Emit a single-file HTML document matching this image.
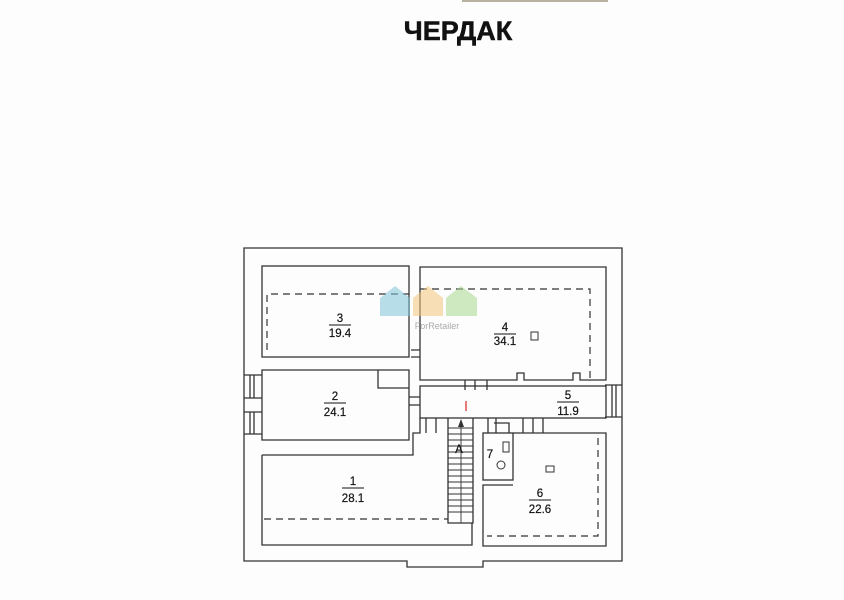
<!DOCTYPE html>
<html><head><meta charset="utf-8"><style>
html,body{margin:0;padding:0;background:#fff;}
svg{display:block;}
text{font-family:"Liberation Sans",sans-serif;}
</style></head><body>
<svg width="844" height="600" viewBox="0 0 844 600" xmlns="http://www.w3.org/2000/svg">
<rect width="844" height="600" fill="#fdfdfd"/>
<line x1="462" y1="1" x2="608" y2="1" stroke="#b8b0a0" stroke-width="2"/>
<text x="458" y="40" font-size="27" font-weight="bold" text-anchor="middle" fill="#111" stroke="#111" stroke-width="0.5">ЧЕРДАК</text>

<g fill="none" stroke="#333" stroke-width="1.3">
<path d="M244 248 H622 V561 H483 V567 H407 V561 H244 Z"/>
<rect x="262" y="266" width="147" height="91"/>
<path d="M420 267 H606 V380 H580 V373 H573 V380 H524 V373 H517 V380 H420 Z"/>
<path d="M262 370 H409 V440 H262 Z"/>
<path d="M378 370 V388 H409"/>
<rect x="420" y="386" width="186" height="32"/>
<path d="M262 455 H413 V433 H420 V418 M262 455 V545 H472 V523"/>
<path d="M448 418 V523 H473 V418"/>
<rect x="483" y="433" width="30" height="47"/>
<path d="M513 433 H606 V546 H483 V485 H513"/>
<path d="M605 385 H622 M605 417 H622 M612 385 V417 M616 385 V417"/>
<path d="M244 375 H262 M244 398 H262 M250 375 V398 M254 375 V398"/>
<path d="M244 412 H262 M244 434 H262 M250 412 V434 M254 412 V434"/>
<path d="M409 397 H420 M409 405 H420"/>
<path d="M411 350 H420 M411 357 H420"/>
<path d="M465 380 V390 M475 380 V390 M487 380 V390"/>
<path d="M426 418 V433 M436 418 V433 M488 418 V433 M496 418 V433 M523 418 V433 M533 418 V433 M543 418 V433"/>
<path d="M494 423 H509 V433"/>
</g>
<g stroke="#333" stroke-width="0.9">
<line x1="461" y1="420" x2="461" y2="523"/>
<line x1="448" y1="428" x2="473" y2="428"/><line x1="448" y1="434" x2="473" y2="434"/>
<line x1="448" y1="440" x2="473" y2="440"/><line x1="448" y1="446" x2="473" y2="446"/>
<line x1="448" y1="452" x2="473" y2="452"/><line x1="448" y1="458" x2="473" y2="458"/>
<line x1="448" y1="464" x2="473" y2="464"/><line x1="448" y1="470" x2="473" y2="470"/>
<line x1="448" y1="476" x2="473" y2="476"/><line x1="448" y1="482" x2="473" y2="482"/>
<line x1="448" y1="488" x2="473" y2="488"/><line x1="448" y1="494" x2="473" y2="494"/>
<line x1="448" y1="500" x2="473" y2="500"/><line x1="448" y1="506" x2="473" y2="506"/>
<line x1="448" y1="512" x2="473" y2="512"/>
</g>
<path d="M461 419 L458 427 H464 Z" fill="#333"/>
<g fill="none" stroke="#333" stroke-width="1.2" stroke-dasharray="7,5">
<path d="M267 350 V294 H409"/>
<path d="M420 289 H590 V378"/>
<path d="M264 519 H448"/>
<path d="M598 438 V536 H487"/>
</g>
<rect x="531" y="332" width="7" height="8" fill="none" stroke="#333"/>
<rect x="546" y="466" width="8" height="6" fill="none" stroke="#333"/>
<circle cx="501" cy="465" r="4" fill="none" stroke="#333"/>
<rect x="503" y="442" width="6" height="10" fill="none" stroke="#333"/>
<g opacity="0.55">
<path d="M380 298 L395 286 L410 298 V316 H380 Z" fill="#7fc3d8"/>
<path d="M413 298 L428 286 L443 298 V316 H413 Z" fill="#f5c57a"/>
<path d="M446 298 L461 286 L477 298 V316 H446 Z" fill="#a8d890"/>
</g>
<text x="437" y="329" font-size="9" fill="#aaa" text-anchor="middle">ForRetailer</text>
<g font-size="11.5" fill="#111" text-anchor="middle" stroke="#111" stroke-width="0.2">
<text x="340" y="322">3</text><text x="340" y="337">19.4</text>
<text x="505" y="331">4</text><text x="505" y="345">34.1</text>
<text x="335" y="400">2</text><text x="335" y="416">24.1</text>
<text x="568" y="399">5</text><text x="568" y="415">11.9</text>
<text x="353" y="485">1</text><text x="353" y="502">28.1</text>
<text x="540" y="497">6</text><text x="540" y="513">22.6</text>
<text x="490" y="458">7</text>
<text x="459" y="453">А</text>
</g>
<g stroke="#111" stroke-width="1.1">
<line x1="329" y1="325" x2="351" y2="325"/>
<line x1="494" y1="334" x2="516" y2="334"/>
<line x1="324" y1="403" x2="346" y2="403"/>
<line x1="557" y1="402" x2="579" y2="402"/>
<line x1="342" y1="488" x2="364" y2="488"/>
<line x1="529" y1="500" x2="551" y2="500"/>
</g>
<line x1="466" y1="401" x2="466" y2="411" stroke="#d33" stroke-width="1.3"/>
</svg>
</body></html>
